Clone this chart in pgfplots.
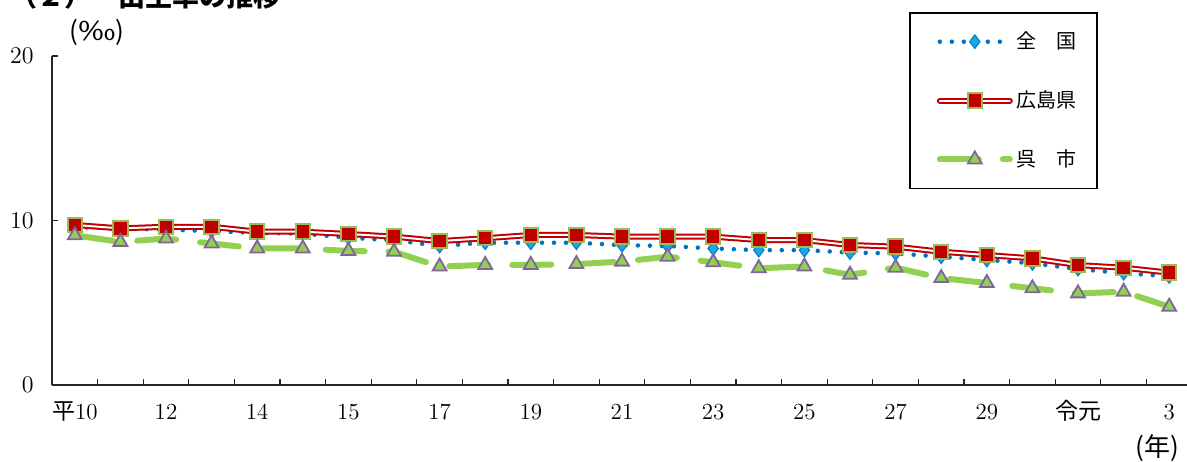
\documentclass[border=0pt]{standalone}
\usepackage{graphicx}
\usepackage{pgfplots}
\pgfplotsset{compat=1.18}
\usepackage{fontspec}
\newfontfamily\cjk{Noto Sans CJK JP}
\definecolor{natline}{HTML}{0070C0}
\definecolor{natfill}{HTML}{1AA7E8}
\definecolor{hiro}{HTML}{C00000}
\definecolor{hiroedge}{HTML}{9BBB59}
\definecolor{kure}{HTML}{92D050}
\definecolor{kureedge}{HTML}{8064A2}
\pgfplotsset{
  legline/.style={legend image code/.code={\path[draw=none] (-7pt,0pt) -- (35pt,0pt);
    \draw[mark repeat=2, mark phase=2, ##1] plot coordinates {(0pt,0pt) (17.5pt,0pt) (35pt,0pt)};}},
  leghiro/.style={legend image code/.code={\path[draw=none] (-7pt,0pt) -- (35pt,0pt);
    \draw[hiro, line width=3pt, line cap=round, solid] (0pt,0pt) -- (35pt,0pt);
    \draw[white, line width=1pt, line cap=round, solid] (0pt,0pt) -- (35pt,0pt);
    \draw[##1] plot coordinates {(17.5pt,0pt)};}},
}
\begin{document}
\begin{tikzpicture}
\useasboundingbox (0pt,0pt) rectangle (593.5pt,230.5pt);
\begin{axis}[
  at={(26pt,38pt)}, anchor=south west,
  scale only axis, width=570pt, height=164.5pt,
  xmin=-0.5, xmax=24.5, ymin=0, ymax=20,
  clip=false,
  axis x line*=bottom, axis y line*=left,
  axis line style={line width=0.6pt, black!85},
  tick style={line width=0.6pt, black!85},
  tick align=inside,
  major tick length=3pt,
  ytick={0,10,20},
  xtick={0.5,1.5,...,23.5},
  xticklabels={},
  extra x ticks={0,2,...,24},
  extra x tick labels={{\cjk 平}10,12,14,15,17,19,21,23,25,27,29,{\cjk 令元},3},
  extra x tick style={major tick length=0pt},
  ticklabel style={font=\fontsize{11.5}{13}\selectfont},
  xticklabel style={anchor=base, yshift=-17pt},
  yticklabel style={anchor=east, xshift=-5.7pt},
  legend style={
    at={(axis description cs:0.7518,1.1337)}, anchor=north west,
    draw=black, line width=0.75pt, fill=white,
    inner xsep=8pt, inner ysep=7.5pt,
    row sep=15.5pt,
    font=\cjk\fontsize{10}{12}\selectfont,
    cells={anchor=west},
  },
]
\addplot[natline, line width=2.25pt, dash pattern=on 0pt off 6pt, line cap=round,
  mark=diamond*, mark size=3.4pt,
  mark options={solid, fill=natfill, draw=natline!70!natfill, line width=0.6pt},
  legline]
coordinates {
(0,9.6) (1,9.5) (2,9.45) (3,9.35) (4,9.25) (5,9.2) (6,8.95) (7,8.8) (8,8.45) (9,8.65)
(10,8.65) (11,8.65) (12,8.5) (13,8.45) (14,8.3) (15,8.2) (16,8.2) (17,8.05) (18,8.0) (19,7.8)
(20,7.6) (21,7.4) (22,7.05) (23,6.8) (24,6.6)};
\addlegendentry{全　国}
\addplot[hiro, line width=3pt, line cap=round, forget plot] coordinates {
(0,9.73) (1,9.52) (2,9.62) (3,9.62) (4,9.32) (5,9.32) (6,9.18) (7,9.02) (8,8.75) (9,8.92)
(10,9.12) (11,9.12) (12,9.02) (13,9.02) (14,9.02) (15,8.81) (16,8.81) (17,8.51) (18,8.41) (19,8.1)
(20,7.9) (21,7.7) (22,7.29) (23,7.13) (24,6.83)};
\addplot[white, line width=1pt, line cap=round, forget plot] coordinates {
(0,9.73) (1,9.52) (2,9.62) (3,9.62) (4,9.32) (5,9.32) (6,9.18) (7,9.02) (8,8.75) (9,8.92)
(10,9.12) (11,9.12) (12,9.02) (13,9.02) (14,9.02) (15,8.81) (16,8.81) (17,8.51) (18,8.41) (19,8.1)
(20,7.9) (21,7.7) (22,7.29) (23,7.13) (24,6.83)};
\addplot[only marks, mark=square*, mark size=3.6pt,
  mark options={fill=hiro, draw=hiroedge, line width=1pt},
  leghiro]
coordinates {
(0,9.73) (1,9.52) (2,9.62) (3,9.62) (4,9.32) (5,9.32) (6,9.18) (7,9.02) (8,8.75) (9,8.92)
(10,9.12) (11,9.12) (12,9.02) (13,9.02) (14,9.02) (15,8.81) (16,8.81) (17,8.51) (18,8.41) (19,8.1)
(20,7.9) (21,7.7) (22,7.29) (23,7.13) (24,6.83)};
\addlegendentry{広島県}
\addplot[kure, line width=3pt, line cap=round, dash pattern=on 19.5pt off 12pt,
  mark=triangle*, mark size=4pt,
  mark options={solid, fill=kure, draw=kureedge, line width=0.9pt},
  legline]
coordinates {
(0,9.1) (1,8.7) (2,8.9) (3,8.6) (4,8.3) (5,8.3) (6,8.15) (7,8.1) (8,7.2) (9,7.3)
(10,7.3) (11,7.35) (12,7.5) (13,7.8) (14,7.46) (15,7.1) (16,7.2) (17,6.7) (18,7.13) (19,6.5)
(20,6.2) (21,5.88) (22,5.57) (23,5.67) (24,4.76)};
\addlegendentry{呉　市}
\end{axis}
\node[anchor=west, inner sep=0pt, font=\cjk\bfseries\fontsize{13.5}{15}\selectfont] at (5pt,232.5pt) {（２）　出生率の推移};
\node[inner sep=0pt, font=\cjk\fontsize{13}{15}\selectfont] at (48.5pt,214.5pt) {(\scalebox{1.45}[1]{‰})};
\node[inner sep=0pt, font=\cjk\fontsize{13}{15}\selectfont] at (578.5pt,6.5pt) {(年)};
\end{tikzpicture}
\end{document}
